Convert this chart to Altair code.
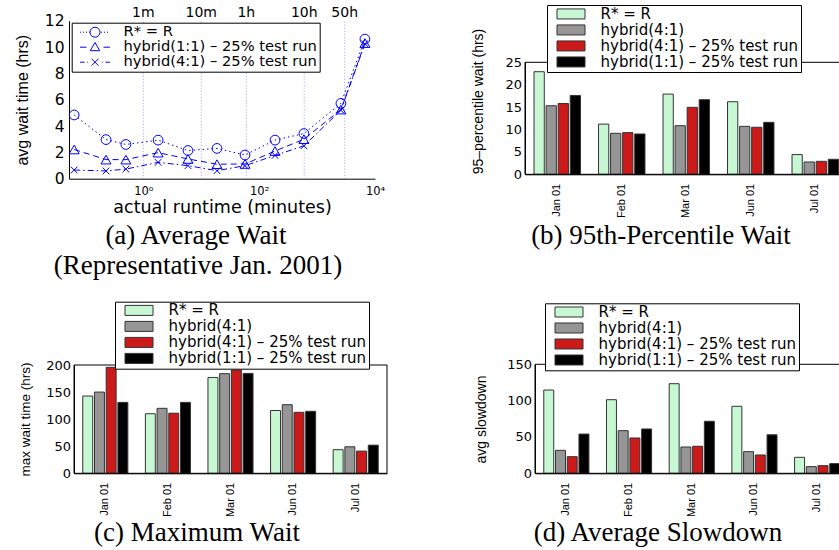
import altair as alt
import pandas as pd

# ---------------- data ----------------
# (a) average wait vs actual runtime (minutes), Jan 2001
runtime_min = [0.064, 0.227, 0.5, 1.8, 5.9, 18.7, 57.0, 188.0, 593.0, 2580.0, 6700.0]
wait_rstar = [4.84, 2.97, 2.6, 2.93, 2.14, 2.3, 1.8, 2.93, 3.43, 5.72, 10.6]
wait_hyb11 = [2.22, 1.45, 1.45, 1.98, 1.5, 1.1, 1.12, 2.1, 3.0, 5.25, 10.3]
wait_hyb41 = [0.66, 0.59, 0.73, 1.24, 0.99, 0.61, 0.99, 1.77, 2.5, 5.2, 10.25]
series_a = ["R* = R", "hybrid(1:1) – 25% test run", "hybrid(4:1) – 25% test run"]

ref_minutes = [1, 10, 60, 600, 3000]
ref_labels = ["1m", "10m", "1h", "10h", "50h"]

# (b)(c)(d) monthly bars
months = ["Jan 01", "Feb 01", "Mar 01", "Jun 01", "Jul 01"]
series_bar = ["R* = R", "hybrid(4:1)", "hybrid(4:1) – 25% test run", "hybrid(1:1) – 25% test run"]
bar_colors = ["#c8f7d3", "#969696", "#cc1a1a", "#000000"]

p95_rstar = [22.9, 11.2, 17.9, 16.2, 4.4]
p95_hyb41 = [15.3, 9.15, 10.85, 10.7, 2.75]
p95_hyb41t = [15.8, 9.3, 14.95, 10.5, 2.9]
p95_hyb11t = [17.6, 9.0, 16.65, 11.6, 3.35]

max_rstar = [142.7, 110, 177, 116, 43.6]
max_hyb41 = [150, 120, 184, 126.7, 49]
max_hyb41t = [195.7, 111, 190.7, 112.6, 41]
max_hyb11t = [131, 131, 184.5, 114.5, 52]

sd_rstar = [114.6, 101.3, 123.3, 92.2, 22]
sd_hyb41 = [31.6, 58.7, 36.2, 29.8, 9.2]
sd_hyb41t = [22.9, 48.6, 37.2, 25.2, 10.5]
sd_hyb11t = [54, 61, 71.6, 53, 13.3]

captions = ["(a) Average Wait", "(Representative Jan. 2001)", "(b) 95th-Percentile Wait",
            "(c) Maximum Wait", "(d) Average Slowdown"]

# ---------------- style / layout ----------------
W, H = 839, 550
SANS_H = "DejaVu Sans"
SANS_V = "Liberation Sans"
SERIF = "Liberation Serif"
BLUE = "#0000ff"
one_row = alt.Data(values=[{"k": 0}])


def seg(x0, x1):
    return f"M{x0},0L{x1},0"


# legend glyphs for panel (a): line style + marker, in symbol units
circle_m = "M3,0A1,1 0 1,1 1,0A1,1 0 1,1 3,0"
tri_m = "M2,-0.95L2.95,0.7L1.05,0.7Z"
x_m = "M1.3,-0.7L2.7,0.7M1.3,0.7L2.7,-0.7"
dotted = "".join(seg(x, x + 0.2) for x in [-1, -0.4, 0.2, 0.8, 3.2, 3.8, 4.4])
dashed = seg(-1, 0.3) + seg(3.7, 5)
dashdot = seg(-1, -0.1) + seg(0.45, 0.6) + seg(3.4, 3.55) + seg(4.1, 5)
legend_paths_a = [dotted + circle_m, dashed + tri_m, dashdot + x_m]

# ---------------- panel (a) ----------------
AX0, AX1, AY0, AY1 = 69, 375, 178.7, 20.7
n = len(runtime_min)
df_a = pd.DataFrame({
    "runtime": runtime_min * 3,
    "wait": wait_rstar + wait_hyb11 + wait_hyb41,
    "series": [series_a[0]] * n + [series_a[1]] * n + [series_a[2]] * n,
})
df_ref = pd.DataFrame({"minutes": ref_minutes, "label": ref_labels})

xs_a = alt.Scale(type="log", domain=[10 ** -1.283, 10000], range=[AX0, AX1], nice=False)
ys_a = alt.Scale(domain=[0, 12], range=[AY0, AY1], nice=False, zero=False)
xaxis_a = alt.Axis(
    orient="bottom", offset=-(H - AY0), values=[1, 100, 10000],
    labelExpr="datum.value == 1 ? '10⁰' : (datum.value == 100 ? '10²' : '10⁴')",
    grid=False, ticks=False, domainColor="black", domainWidth=1,
    labelColor="black", labelFont=SANS_H, labelFontSize=11.5, labelPadding=7,
    labelFlush=False, labelOverlap=False,
    title="actual runtime (minutes)", titleFont=SANS_H, titleFontSize=17.5,
    titleFontWeight="normal", titleColor="black", titleBaseline="alphabetic",
    titleY=33.5, titleX=(AX0 + AX1) / 2)
yaxis_a = alt.Axis(
    orient="left", offset=-AX0, values=[0, 2, 4, 6, 8, 10, 12],
    grid=False, ticks=False, domainColor="black", domainWidth=1,
    labelColor="black", labelFont=SANS_H, labelFontSize=15.5, labelPadding=5,
    labelOverlap=False,
    title="avg wait time (hrs)", titleFont=SANS_V, titleFontSize=16,
    titleFontWeight="normal", titleColor="black", titleAngle=270,
    titleBaseline="middle", titleAlign="center", titleX=-47, titleY=(AY0 + AY1) / 2)

layers_a = []
layers_a.append(
    alt.Chart(df_ref).mark_rule(color="#9c9cf0", strokeDash=[1, 2], strokeWidth=1).encode(
        x=alt.X("minutes:Q", scale=xs_a, axis=xaxis_a),
        y=alt.YDatum(0, type="quantitative", scale=ys_a, axis=yaxis_a),
        y2=alt.Y2Datum(12)))
layers_a.append(
    alt.Chart(df_ref).mark_text(font=SANS_H, fontSize=14, baseline="middle", color="black").encode(
        x=alt.X("minutes:Q", scale=xs_a, axis=xaxis_a),
        y=alt.value(12.5),
        text="label:N"))

dashes = [[1.5, 3], [6, 4], [6, 3, 1.5, 3]]
markers = ["circle", "triangle-up", "M-1,-1L1,1M-1,1L1,-1"]
msizes = [95, 100, 44]
for s, dsh, shp, sz in zip(series_a, dashes, markers, msizes):
    base = alt.Chart(df_a).transform_filter(alt.datum.series == s)
    enc = dict(x=alt.X("runtime:Q", scale=xs_a, axis=xaxis_a),
               y=alt.Y("wait:Q", scale=ys_a, axis=yaxis_a))
    layers_a.append(base.mark_line(color=BLUE, strokeDash=dsh, strokeWidth=1).encode(**enc))
    layers_a.append(base.mark_point(shape=shp, filled=False, color=BLUE, size=sz,
                                    strokeWidth=1, opacity=1).encode(**enc))

layers_a.append(
    alt.Chart(df_a).transform_filter("false").mark_point(filled=False, color=BLUE, opacity=1).encode(
        shape=alt.Shape("series:N", sort=series_a,
                        scale=alt.Scale(domain=series_a, range=legend_paths_a),
                        legend=alt.Legend(
                            orient="none", legendX=71.7, legendY=22.7, title=None,
                            symbolSize=100, symbolStrokeWidth=1, symbolStrokeColor=BLUE,
                            labelFont=SANS_H, labelFontSize=14.7, labelColor="black",
                            labelLimit=400,
                            clipHeight=14, rowPadding=0, padding=2.5,
                            strokeColor="black", fillColor="white",
                            symbolOffset=3.45, labelOffset=31.1))))
panel_a = alt.layer(*layers_a)


# ---------------- bar panels ----------------
def bar_panel(vals, X0, X1, Y0, Y1, ymax, ystep, ytitle, ytitle_size, ytitle_x, ytitle_y,
              leg_x, leg_y, leg_clip):
    df = pd.DataFrame({
        "month": months * 4,
        "series": [series_bar[0]] * 5 + [series_bar[1]] * 5 + [series_bar[2]] * 5 + [series_bar[3]] * 5,
        "value": vals[0] + vals[1] + vals[2] + vals[3],
    })
    xs = alt.Scale(domain=months, range=[X0, X1], paddingInner=0.28, paddingOuter=0.14)
    ys = alt.Scale(domain=[0, ymax], range=[Y0, Y1], nice=False, zero=True)
    xaxis = alt.Axis(orient="bottom", offset=-(H - Y0), labelAngle=270, title=None,
                     grid=False, ticks=False, domainColor="black", domainWidth=1,
                     labelColor="black", labelFont=SANS_V, labelFontSize=11, labelPadding=9)
    yaxis = alt.Axis(orient="left", offset=-X0, values=list(range(0, ymax + 1, ystep)),
                     grid=False, ticks=False, domainColor="black", domainWidth=1,
                     labelColor="black", labelFont=SANS_H, labelFontSize=13, labelPadding=3.5,
                     labelOverlap=False,
                     title=ytitle, titleFont=SANS_V, titleFontSize=ytitle_size,
                     titleFontWeight="normal", titleColor="black", titleAngle=270,
                     titleBaseline="middle", titleAlign="center",
                     titleX=ytitle_x, titleY=ytitle_y)
    bars = alt.Chart(df).mark_bar(stroke="#333333", strokeWidth=1).encode(
        x=alt.X("month:N", sort=months, scale=xs, axis=xaxis),
        xOffset=alt.XOffset("series:N", sort=series_bar,
                            scale=alt.Scale(domain=series_bar, paddingInner=0.15, paddingOuter=0)),
        y=alt.Y("value:Q", scale=ys, axis=yaxis),
        color=alt.Color("series:N", sort=series_bar,
                        scale=alt.Scale(domain=series_bar, range=bar_colors),
                        legend=alt.Legend(
                            orient="none", legendX=leg_x, legendY=leg_y, title=None,
                            symbolType="M-1,-1H4.6V1H-1Z", symbolSize=100,
                            symbolStrokeColor="#333333", symbolStrokeWidth=1,
                            labelFont=SANS_H, labelFontSize=15, labelColor="black",
                            labelLimit=400,
                            clipHeight=leg_clip, rowPadding=0, padding=2,
                            strokeColor="black", fillColor="white",
                            symbolOffset=5.5, labelOffset=31)))
    frame = alt.Chart(one_row).mark_rect(fill="transparent", stroke="black", strokeWidth=1).encode(
        x=alt.value(X0), x2=alt.value(X1), y=alt.value(Y1), y2=alt.value(Y0))
    return alt.layer(bars, frame)


panel_b = bar_panel([p95_rstar, p95_hyb41, p95_hyb41t, p95_hyb11t],
                    525, 847.5, 174.3, 62.3, 25, 5, "95–percentile wait (hrs)", 14, -47, 101,
                    547, 5, 13.9)
panel_c = bar_panel([max_rstar, max_hyb41, max_hyb41t, max_hyb11t],
                    74, 387, 473.3, 365, 200, 50, "max wait time (hrs)", 13.5, -49, 419,
                    115, 301.7, 13.4)
panel_d = bar_panel([sd_rstar, sd_hyb41, sd_hyb41t, sd_hyb11t],
                    535, 848.5, 473.3, 364.3, 150, 50, "avg slowdown", 14, -53.3, 419,
                    545, 303.3, 13.4)

# ---------------- captions ----------------
cap_pos = [(196, 244), (198, 274), (661, 244), (197, 541), (658, 541)]
cap_layers = [
    alt.Chart(one_row).mark_text(font=SERIF, fontSize=27, color="black",
                                 align="center", baseline="alphabetic").encode(
        x=alt.value(cx), y=alt.value(cy), text=alt.value(t))
    for t, (cx, cy) in zip(captions, cap_pos)
]

chart = alt.layer(panel_a, panel_b, panel_c, panel_d, *cap_layers).resolve_scale(
    x="independent", y="independent", color="independent",
    xOffset="independent", shape="independent"
).properties(
    width=W, height=H, padding=0, background="white",
    autosize=alt.AutoSizeParams(type="none")
).configure_view(stroke=None)

chart.save("out.html", embed_options={"renderer": "svg", "actions": False})
